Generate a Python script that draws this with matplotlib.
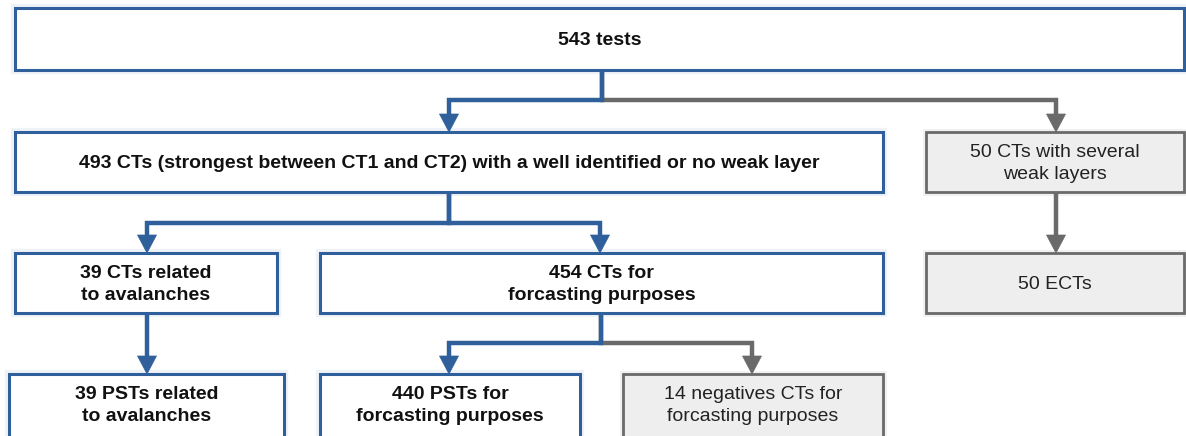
import matplotlib
matplotlib.use("Agg")
import matplotlib.pyplot as plt
from matplotlib.patches import Rectangle, Polygon
import matplotlib.patheffects as pe

plt.rcParams['font.family'] = ['Liberation Sans', 'DejaVu Sans']

BLUE = '#2f609b'
GREY = '#6a6a6a'
GREY_FILL = '#eeeeee'

# box texts and kind ('b' = blue bold box, 'g' = grey box)
labels = [
    "543 tests",
    "493 CTs (strongest between CT1 and CT2) with a well identified or no weak layer",
    "50 CTs with several\nweak layers",
    "39 CTs related\nto avalanches",
    "454 CTs for\nforcasting purposes",
    "50 ECTs",
    "39 PSTs related\nto avalanches",
    "440 PSTs for\nforcasting purposes",
    "14 negatives CTs for\nforcasting purposes",
]
kinds = ['b', 'b', 'g', 'b', 'b', 'g', 'b', 'b', 'g']

# box layout in pixels: left, top, right, bottom
boxes = [
    (15, 8, 1184, 70),
    (15, 132, 883, 192),
    (926, 132, 1184, 192),
    (15, 253, 277, 313),
    (320, 253, 883, 313),
    (926, 253, 1184, 313),
    (9, 374, 284, 440),
    (320, 374, 580, 440),
    (623, 374, 883, 440),
]

# connectors: (source x, source y, bend y, target x, target y, colour)
links = [
    (602, 70, 100, 449, 132, 'b'),
    (602, 70, 100, 1056, 132, 'g'),
    (449, 192, 223, 147, 253, 'b'),
    (449, 192, 223, 600, 253, 'b'),
    (1056, 192, 223, 1056, 253, 'g'),
    (147, 313, 343, 147, 374, 'b'),
    (601, 313, 343, 449, 374, 'b'),
    (601, 313, 343, 752, 374, 'g'),
]

fig = plt.figure(figsize=(11.86, 4.36), dpi=100)
ax = fig.add_axes([0, 0, 1, 1])
ax.set_xlim(0, 1186)
ax.set_ylim(436, 0)
ax.axis('off')

for (l, t, r, b), txt, k in zip(boxes, labels, kinds):
    cy = (t + min(b, 434)) / 2 + 1.5
    if k == 'b':
        rect = Rectangle((l, t), r - l, b - t, facecolor='white', edgecolor=BLUE, linewidth=2.2, zorder=2)
        rect.set_path_effects([pe.Stroke(linewidth=6, foreground='#a9c0dc', alpha=0.18), pe.Normal()])
        ax.add_patch(rect)
        ax.text((l + r) / 2, cy, txt, ha='center', va='center',
                fontsize=14, fontweight='bold', color='#111111', linespacing=1.42, zorder=3)
    else:
        rect = Rectangle((l, t), r - l, b - t, facecolor=GREY_FILL, edgecolor=GREY, linewidth=2.0, zorder=2)
        rect.set_path_effects([pe.Stroke(linewidth=5, foreground='#bbbbbb', alpha=0.2), pe.Normal()])
        ax.add_patch(rect)
        ax.text((l + r) / 2, cy, txt, ha='center', va='center',
                fontsize=14, color='#222222', linespacing=1.35, zorder=3)

head_w, head_h = 9.5, 18
for sx, sy, by, tx, ty, k in links:
    c = BLUE if k == 'b' else GREY
    z = 5 if k == 'b' else 4
    ax.plot([sx, sx, tx, tx], [sy, by, by, ty - head_h + 2], color=c, linewidth=3.2,
            solid_joinstyle='miter', solid_capstyle='butt', zorder=z)
    ax.add_patch(Polygon([(tx - head_w, ty - head_h), (tx + head_w, ty - head_h), (tx, ty)],
                         closed=True, facecolor=c, edgecolor=c, linewidth=0.5, zorder=z))

fig.savefig('out.png', dpi=100)
